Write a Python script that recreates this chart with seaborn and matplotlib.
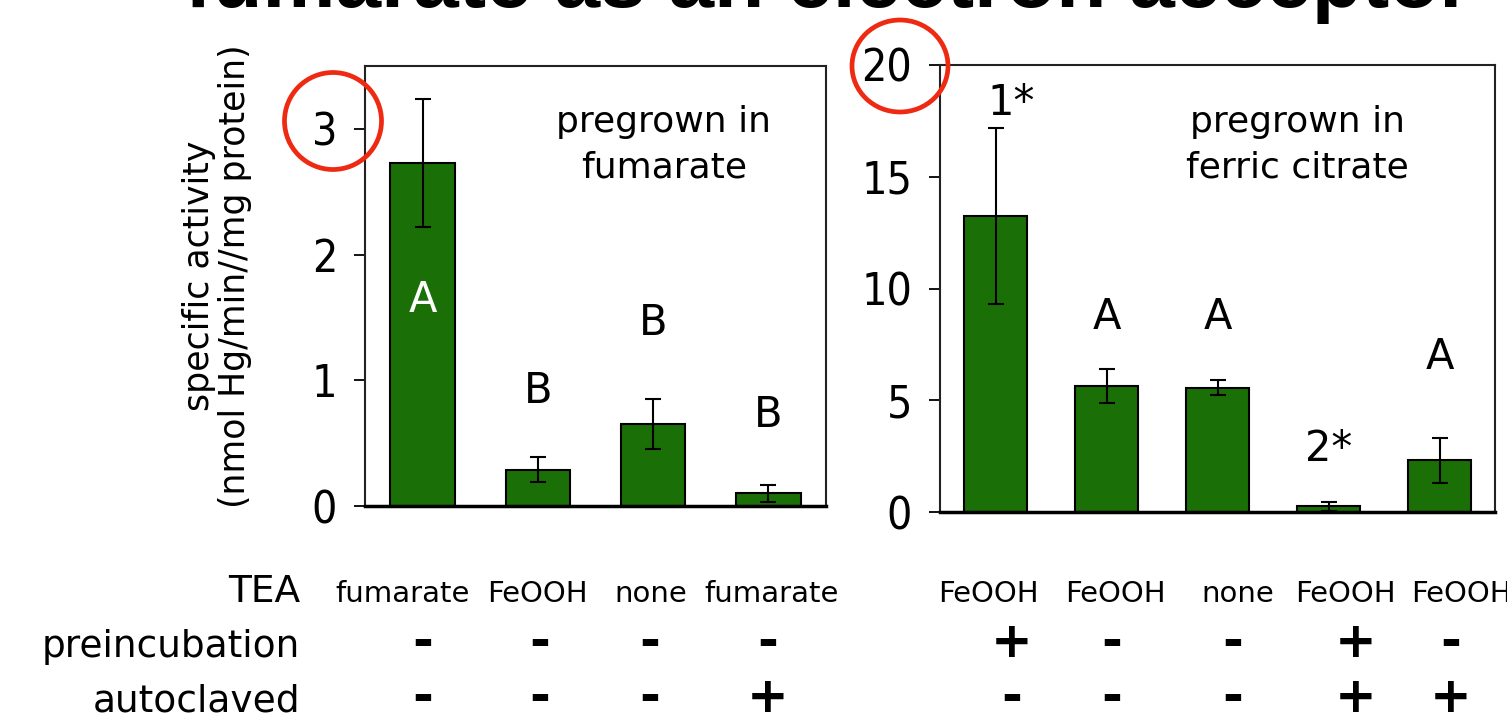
import numpy as np
import pandas as pd
import seaborn as sns
import matplotlib.pyplot as plt
from matplotlib.patches import Ellipse
from matplotlib import font_manager

# Panel 1: cells pregrown in fumarate
tea_fum = ['fumarate', 'FeOOH', 'none', 'fumarate']
pre_fum = ['-', '-', '-', '-']
auto_fum = ['-', '-', '-', '+']
act_fum = [2.73, 0.29, 0.65, 0.10]
err_fum = [0.51, 0.10, 0.20, 0.07]
grp_fum = ['A', 'B', 'B', 'B']
grp_fum_y = [1.54, 0.82, 1.36, 0.63]

# Panel 2: cells pregrown in ferric citrate
tea_fe = ['FeOOH', 'FeOOH', 'none', 'FeOOH', 'FeOOH']
pre_fe = ['+', '-', '-', '+', '-']
auto_fe = ['-', '-', '-', '+', '+']
act_fe = [13.25, 5.65, 5.56, 0.25, 2.31]
err_fe = [3.93, 0.76, 0.33, 0.20, 1.00]
grp_fe = ['1*', 'A', 'A', '2*', 'A']
grp_fe_y = [17.76, 8.2, 8.2, 2.29, 6.4]

GREEN = '#1b6f07'
RED = '#ee2a12'
W, H = 1507, 720

sns.set_style('ticks')
plt.rcParams['font.family'] = ['DejaVu Sans']
plt.rcParams['text.color'] = 'black'
plt.rcParams['axes.labelcolor'] = 'black'
plt.rcParams['ytick.color'] = 'black'
plt.rcParams['xtick.color'] = 'black'

# the axis numbers in the slide use a narrow face; take one if installed
narrow = None
for want in ['Liberation Sans Narrow', 'DejaVu Sans', 'Roboto', 'Noto Sans', 'Open Sans']:
    for f in font_manager.fontManager.ttflist:
        if (f.name.startswith(want) and f.style == 'normal'
                and f.weight in (400, 'normal', 'regular')
                and (f.stretch == 'condensed' or 'Narrow' in f.name or 'Condensed' in f.name)):
            narrow = f.fname
            break
    if narrow:
        break
if narrow:
    tick_prop = font_manager.FontProperties(fname=narrow, size=32)
else:
    tick_prop = font_manager.FontProperties(family='DejaVu Sans', size=25)

fig = plt.figure(figsize=(W / 100, H / 100), dpi=100)
ax1 = fig.add_axes([365 / W, 1 - 506 / H, 461 / W, 440 / H])
ax2 = fig.add_axes([940 / W, 1 - 512 / H, 555 / W, 447 / H])


def draw_panel(ax, tea, pre, auto, act, err, ymax, yticks, grp, grp_y):
    n = len(act)
    df = pd.DataFrame({'condition': [f'{t} {p}/{a}' for t, p, a in zip(tea, pre, auto)],
                       'activity': act})
    sns.barplot(data=df, x='condition', y='activity', color=GREEN, saturation=1,
                edgecolor='black', linewidth=1.5, width=0.56, errorbar=None, ax=ax)
    ax.errorbar(np.arange(n), act, yerr=err, fmt='none', ecolor='black',
                elinewidth=1.5, capsize=6, capthick=1.5)
    ax.set_xlim(-0.5, n - 0.5)
    ax.set_ylim(0, ymax)
    ax.set_xticks([])
    ax.set_yticks(yticks)
    ax.set_yticklabels([str(t) for t in yticks], fontproperties=tick_prop)
    ax.set_xlabel('')
    ax.set_ylabel('')
    ax.tick_params(axis='y', length=8, width=1.3, pad=12, color='black')
    for side in ['top', 'right', 'left']:
        ax.spines[side].set_linewidth(1.5)
        ax.spines[side].set_color('#222222')
    ax.spines['bottom'].set_linewidth(2.5)
    ax.spines['bottom'].set_color('black')
    for i, (g, gy) in enumerate(zip(grp, grp_y)):
        ax.text(i, gy, g, ha='center', va='baseline', fontsize=30,
                color='white' if gy < act[i] else 'black')


draw_panel(ax1, tea_fum, pre_fum, auto_fum, act_fum, err_fum, 3.5, [0, 1, 2, 3],
           grp_fum, grp_fum_y)
draw_panel(ax2, tea_fe, pre_fe, auto_fe, act_fe, err_fe, 20, [0, 5, 10, 15, 20],
           grp_fe, grp_fe_y)

# shift of the "1*" label to the right of its bar
ax2.texts[0].set_x(0.14)

# panel captions
for ax, lines, cx in [(ax1, ['pregrown in', 'fumarate'], 664),
                      (ax2, ['pregrown in', 'ferric citrate'], 1297)]:
    for line, base in zip(lines, [132, 178]):
        fig.text(cx / W, 1 - base / H, line, ha='center', va='baseline', fontsize=26)

# y axis label
fig.text(217 / W, 1 - 276 / H, 'specific activity\n(nmol Hg/min//mg protein)',
         rotation=90, ha='center', va='center', fontsize=25, linespacing=1.1)

# condition table under the bars
row_base = [602, 657, 712]
for name, base in zip(['TEA', 'preincubation', 'autoclaved'], row_base):
    fig.text(300 / W, 1 - base / H, name, ha='right', va='baseline', fontsize=27)

tables = [
    (ax1, tea_fum, pre_fum, auto_fum, [-20, 0, -2, 3], [0, 2, -3, -1]),
    (ax2, tea_fe, pre_fe, auto_fe, [-7, 9, 20, 17, 22], [16, 5, 15, 27, 11]),
]
for ax, tea, pre, auto, dx_head, dx_sign in tables:
    for i in range(len(tea)):
        ax.annotate(tea[i], xy=(i, 1 - row_base[0] / H), xycoords=('data', 'figure fraction'),
                    xytext=(dx_head[i], 0), textcoords='offset pixels',
                    ha='center', va='baseline', fontsize=21, annotation_clip=False)
        for sign, base in zip([pre[i], auto[i]], row_base[1:]):
            ax.annotate(sign, xy=(i, 1 - base / H), xycoords=('data', 'figure fraction'),
                        xytext=(dx_sign[i], 0), textcoords='offset pixels',
                        ha='center', va='baseline', fontsize=36, fontweight='bold',
                        annotation_clip=False)

# highlighted axis maxima
for cx, cy, ew, eh in [(333, 121, 97, 97), (900, 66, 96, 92)]:
    fig.add_artist(Ellipse((cx / W, 1 - cy / H), ew / W, eh / H, transform=fig.transFigure,
                           fill=False, edgecolor=RED, linewidth=3.4, zorder=10))

# slide title, mostly cut off at the top
fig.text(185 / W, 1 - 7 / H, 'fumarate as an electron acceptor', ha='left', va='baseline',
         fontsize=59, fontweight='bold', family=['Liberation Sans', 'DejaVu Sans'])

fig.savefig('out.png', dpi=100)
plt.close(fig)
